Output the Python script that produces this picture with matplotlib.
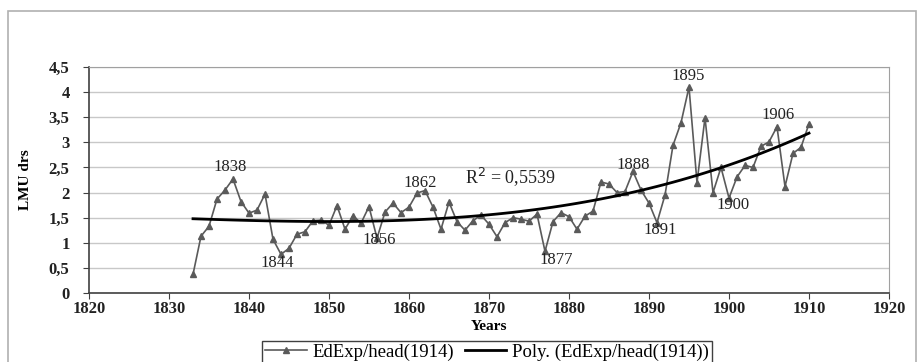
import numpy as np
import matplotlib.pyplot as plt
from matplotlib.ticker import FuncFormatter
from matplotlib.patches import Rectangle

# EdExp/head(1914), yearly values
years = list(range(1833, 1911))
edexp = [0.37, 1.13, 1.33, 1.87, 2.05, 2.27, 1.82, 1.59, 1.65, 1.97,
         1.07, 0.77, 0.89, 1.17, 1.22, 1.44, 1.45, 1.35, 1.74, 1.27,
         1.54, 1.39, 1.72, 1.09, 1.61, 1.79, 1.60, 1.71, 1.99, 2.04,
         1.71, 1.27, 1.81, 1.42, 1.25, 1.44, 1.55, 1.37, 1.12, 1.40,
         1.50, 1.47, 1.43, 1.57, 0.83, 1.42, 1.60, 1.52, 1.27, 1.53,
         1.63, 2.21, 2.17, 2.00, 2.02, 2.42, 2.05, 1.79, 1.40, 1.95,
         2.94, 3.39, 4.10, 2.20, 3.49, 2.00, 2.50, 1.89, 2.31, 2.54,
         2.50, 2.92, 3.01, 3.31, 2.12, 2.78, 2.90, 3.37]

# labelled years and where their labels sit
ann_text = ['1838', '1844', '1856', '1862', '1877', '1888', '1891', '1895', '1900', '1906']
ann_x = [1837.6, 1843.5, 1856.3, 1861.4, 1878.4, 1888.0, 1891.4, 1894.9, 1900.5, 1906.1]
ann_y = [2.50, 0.60, 1.06, 2.20, 0.65, 2.54, 1.26, 4.32, 1.75, 3.54]
r2_text = 'R$^2$ = 0,5539'

# polynomial trendline, as Excel would add it
yr = np.array(years, dtype=float)
coef = np.polyfit(yr - 1870, edexp, 3)
trend = np.polyval(coef, yr - 1870)

plt.rcParams['font.family'] = ['Liberation Serif', 'DejaVu Serif']

fig = plt.figure(figsize=(9.17, 3.62), dpi=100)
fig.patches.append(Rectangle((8 / 917, -0.1), 0.99, 1 - 11 / 362 + 0.1,
                             transform=fig.transFigure, fill=False,
                             edgecolor='#b0b0b0', linewidth=1.2))
ax = fig.add_axes([89 / 917, 1 - 293 / 362, 800 / 917, 226 / 362])

ax.plot(years, edexp, '-^', color='#5a5a5a', linewidth=1.2, markersize=4,
        markerfacecolor='#5a5a5a', label='EdExp/head(1914)', zorder=3)
ax.plot(years, trend, color='black', linewidth=2, label='Poly. (EdExp/head(1914))', zorder=4)

for t, x, y in zip(ann_text, ann_x, ann_y):
    ax.text(x, y, t, ha='center', va='center', fontsize=12, color='#222222')
ax.text(1867, 2.32, r2_text, ha='left', va='center', fontsize=13, color='#222222')

ax.set_xlim(1820, 1920)
ax.set_ylim(0, 4.5)
ax.set_xticks(range(1820, 1921, 10))
ax.set_yticks(np.arange(0, 4.51, 0.5))
ax.yaxis.set_major_formatter(FuncFormatter(lambda v, p: ('%g' % v).replace('.', ',')))
ax.grid(axis='y', color='#c8c8c8', linewidth=1)
ax.set_axisbelow(True)
for s in ['top', 'right']:
    ax.spines[s].set_color('#a0a0a0')
for s in ['left', 'bottom']:
    ax.spines[s].set_color('#404040')
    ax.spines[s].set_linewidth(1.2)
ax.tick_params(axis='both', direction='out', length=4, color='#404040',
               labelsize=12, labelcolor='#222222')
ax.tick_params(axis='y', pad=10)
ax.tick_params(axis='x', pad=2)
for lbl in ax.get_xticklabels() + ax.get_yticklabels():
    lbl.set_fontweight('bold')

ax.set_xlabel('Years', fontsize=11, fontweight='bold', labelpad=2)
ax.set_ylabel('LMU drs', fontsize=11, fontweight='bold', labelpad=12)

fig.legend(loc='center', bbox_to_anchor=(487 / 917, 1 - 352 / 362), ncol=2,
           fontsize=13.5, frameon=True, fancybox=False, edgecolor='#404040',
           handlelength=2.2, handletextpad=0.3, columnspacing=0.6,
           borderpad=0.15, framealpha=1)

fig.savefig('out.png', dpi=100)
